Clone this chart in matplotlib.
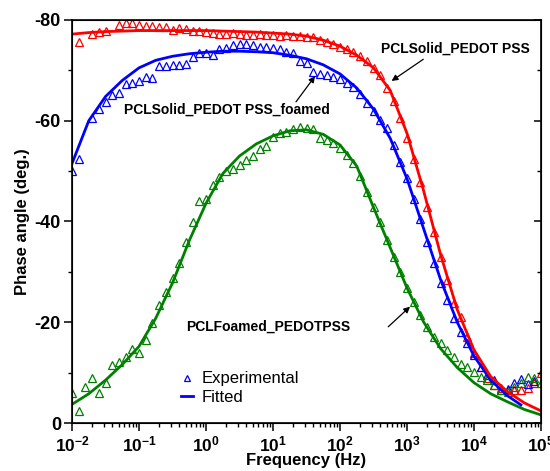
import numpy as np
import matplotlib
matplotlib.use('Agg')
import matplotlib.pyplot as plt
from matplotlib.lines import Line2D
from matplotlib.ticker import LogLocator, NullFormatter

plt.rcParams['font.family'] = ['Liberation Sans', 'DejaVu Sans']
plt.rcParams['mathtext.fontset'] = 'custom'
plt.rcParams['mathtext.rm'] = 'Liberation Sans'
plt.rcParams['mathtext.bf'] = 'Liberation Sans:bold'
plt.rcParams['mathtext.it'] = 'Liberation Sans:italic'
plt.rcParams['axes.unicode_minus'] = False

# ---------------- data (log10 of frequency in Hz, phase angle in deg.) ----------------
solid_logf = [-1.9, -1.7, -1.6, -1.5, -1.3, -1.2, -1.1, -1.0, -0.9, -0.8, -0.7, -0.6, -0.5, -0.4,
              -0.3, -0.2, -0.1, 0.0, 0.1, 0.2, 0.3, 0.4, 0.5, 0.6, 0.7, 0.8, 0.9, 1.0, 1.1, 1.2,
              1.3, 1.4, 1.5, 1.6, 1.7, 1.8, 1.9, 2.0, 2.1, 2.2, 2.3, 2.4, 2.5, 2.6, 2.7, 2.8, 2.9,
              3.0, 3.1, 3.2, 3.3, 3.4, 3.5, 3.6, 3.7, 3.8, 3.9, 4.0, 4.1, 4.2, 4.3, 4.4, 4.5, 4.6,
              4.7, 4.8, 4.9, 5.0]
solid_phase = [-75.7, -77.3, -77.6, -77.9, -79.0, -79.4, -79.5, -79.0, -78.8, -78.8, -78.7, -78.6,
               -78.1, -78.5, -78.3, -77.9, -77.9, -77.7, -77.5, -77.3, -77.2, -77.4, -77.3, -77.1,
               -77.0, -77.2, -77.0, -77.0, -76.9, -77.0, -76.8, -76.9, -76.7, -76.6, -76.0, -75.7,
               -75.2, -74.7, -74.3, -73.7, -72.8, -71.8, -70.5, -69.0, -66.5, -63.9, -60.6, -56.6,
               -52.5, -47.9, -42.9, -38.0, -33.0, -28.4, -23.8, -21.0, -17.1, -13.8, -11.2, -8.9,
               -7.5, -6.9, -6.5, -6.5, -6.5, -6.9, -8.0, -10.0]

foamsolid_logf = [-2.0, -1.9, -1.7, -1.6, -1.5, -1.4, -1.3, -1.2, -1.1, -1.0, -0.9, -0.8, -0.7,
                  -0.6, -0.5, -0.4, -0.3, -0.2, -0.1, 0.0, 0.1, 0.2, 0.3, 0.4, 0.5, 0.6, 0.7, 0.8,
                  0.9, 1.0, 1.1, 1.2, 1.3, 1.4, 1.5, 1.6, 1.7, 1.8, 1.9, 2.0, 2.1, 2.2, 2.3, 2.4,
                  2.5, 2.6, 2.7, 2.8, 2.9, 3.0, 3.1, 3.2, 3.3, 3.4, 3.5, 3.6, 3.7, 3.8, 3.9, 4.0,
                  4.1, 4.2, 4.3, 4.4, 4.5, 4.6, 4.7, 4.8, 4.9]
foamsolid_phase = [-50.0, -52.4, -60.5, -62.3, -63.8, -65.1, -65.6, -67.2, -67.5, -67.9, -68.7,
                   -68.5, -70.9, -70.9, -71.0, -71.0, -71.2, -72.7, -73.5, -73.5, -73.1, -74.3,
                   -74.5, -75.0, -75.3, -75.3, -75.0, -74.7, -74.7, -74.5, -74.2, -73.7, -73.5,
                   -71.8, -71.4, -69.6, -69.3, -69.0, -68.6, -68.2, -67.4, -66.7, -65.4, -63.5,
                   -61.9, -60.1, -58.5, -55.2, -51.8, -48.6, -44.5, -40.4, -36.0, -31.7, -27.7,
                   -24.4, -20.8, -18.1, -15.8, -13.5, -11.2, -9.5, -8.5, -6.5, -6.7, -7.9, -8.7,
                   -7.8, -8.3]

foamed_logf = [-2.0, -1.9, -1.8, -1.7, -1.6, -1.5, -1.4, -1.3, -1.2, -1.1, -1.0, -0.9, -0.8, -0.7,
               -0.6, -0.5, -0.4, -0.3, -0.2, -0.1, 0.0, 0.1, 0.2, 0.3, 0.4, 0.5, 0.6, 0.7, 0.8,
               0.9, 1.0, 1.1, 1.2, 1.3, 1.4, 1.5, 1.6, 1.7, 1.8, 1.9, 2.0, 2.1, 2.2, 2.3, 2.4, 2.5,
               2.6, 2.7, 2.8, 2.9, 3.0, 3.1, 3.2, 3.3, 3.4, 3.5, 3.6, 3.7, 3.8, 3.9, 4.0, 4.1, 4.2,
               4.3, 4.4, 4.5, 4.6, 4.7, 4.8, 4.9, 5.0]
foamed_phase = [-5.9, -2.4, -7.2, -9.0, -5.9, -8.0, -11.5, -12.2, -13.2, -14.6, -13.9, -16.5, -19.8,
                -23.4, -26.1, -28.8, -31.8, -36.0, -39.9, -44.0, -44.4, -47.2, -48.9, -50.1, -50.5,
                -51.2, -52.2, -53.0, -54.3, -55.0, -56.8, -57.5, -57.8, -58.3, -58.7, -58.6, -58.3,
                -56.6, -56.2, -55.6, -54.6, -53.3, -51.6, -49.0, -45.9, -42.9, -39.9, -36.4, -33.0,
                -30.0, -26.7, -24.1, -21.4, -19.1, -17.1, -15.8, -14.5, -13.2, -11.8, -11.2, -10.2,
                -9.2, -8.5, -7.5, -6.5, -6.2, -7.2, -7.9, -9.2, -8.9, -7.9]

# fitted curves
fit_logf = [-2.0, -1.75, -1.5, -1.25, -1.0, -0.75, -0.5, -0.25, 0.0, 0.25, 0.5, 0.75, 1.0, 1.25,
            1.5, 1.75, 2.0, 2.25, 2.5, 2.75, 3.0, 3.25, 3.5, 3.75, 4.0, 4.25, 4.5, 4.75, 5.0]
solid_fit = [-77.2, -77.5, -77.7, -77.8, -77.9, -77.9, -77.9, -77.9, -77.9, -77.8, -77.7, -77.6,
             -77.4, -77.2, -76.8, -76.0, -74.8, -73.0, -70.5, -66.0, -57.5, -46.0, -33.5, -22.5,
             -14.5, -9.2, -6.2, -4.0, -2.4]
foamsolid_fit_logf = [-2.0, -1.75, -1.5, -1.25, -1.0, -0.75, -0.5, -0.25, 0.0, 0.25, 0.5, 0.75,
                      1.0, 1.25, 1.5, 1.75, 2.0, 2.25, 2.5, 2.75, 3.0, 3.25, 3.5, 3.75, 4.0, 4.25,
                      4.5, 4.7]
foamsolid_fit = [-51.5, -60.0, -64.8, -68.0, -70.5, -72.0, -72.8, -73.3, -73.6, -73.8, -73.8,
                 -73.7, -73.5, -73.0, -72.3, -71.1, -69.3, -66.5, -62.3, -56.5, -48.5, -38.5,
                 -28.5, -20.0, -13.3, -8.5, -5.4, -3.6]
foamed_fit = [-3.7, -5.8, -8.5, -11.6, -15.2, -20.8, -27.8, -36.2, -43.6, -49.5, -53.0, -55.4,
              -57.0, -58.0, -58.2, -57.3, -55.2, -51.0, -42.8, -34.8, -26.8, -20.0, -14.8, -11.0,
              -8.0, -5.8, -4.2, -2.7, -1.6]

x_tick_exp = [-2, -1, 0, 1, 2, 3, 4, 5]
y_ticks = [0, -20, -40, -60, -80]
y_minor = [-10, -30, -50, -70]

RED = '#ff0000'
BLUE = '#0000ff'
GREEN = '#008000'

fig = plt.figure(figsize=(5.5, 4.71), dpi=100)
ax = fig.add_axes([72 / 550, 1 - 423 / 471, (541 - 72) / 550, (423 - 20) / 471])

mk = dict(linestyle='none', marker='^', mfc='none', ms=5.6, mew=0.9)
ax.plot(10 ** np.array(solid_logf), solid_phase, mec=RED, **mk)
ax.plot(10 ** np.array(foamsolid_logf), foamsolid_phase, mec=BLUE, **mk)
ax.plot(10 ** np.array(foamed_logf), foamed_phase, mec=GREEN, **mk)

ax.plot(10 ** np.array(fit_logf), foamed_fit, color=GREEN, lw=2)
ax.plot(10 ** np.array(foamsolid_fit_logf), foamsolid_fit, color=BLUE, lw=2)
ax.plot(10 ** np.array(fit_logf), solid_fit, color=RED, lw=2)

ax.set_xscale('log')
ax.set_xlim(1e-2, 1e5)
ax.set_ylim(0, -80)

ax.set_xticks([10.0 ** k for k in x_tick_exp])
ax.set_xticklabels([r'$\mathbf{10^{%d}}$' % k for k in x_tick_exp], fontsize=12.5)
ax.xaxis.set_minor_locator(LogLocator(base=10, subs=np.arange(2, 10), numticks=20))
ax.xaxis.set_minor_formatter(NullFormatter())

ax.set_yticks(y_ticks)
ax.set_yticklabels([str(v) for v in y_ticks], fontsize=13, fontweight='bold')
ax.set_yticks(y_minor, minor=True)

ax.tick_params(axis='both', which='major', direction='out', length=6, width=1.1, pad=2)
ax.tick_params(axis='both', which='minor', direction='out', length=3, width=1.0)
for s in ax.spines.values():
    s.set_linewidth(1.2)

ax2 = ax.twinx()
ax2.set_ylim(0, -80)
ax2.set_yticks(y_ticks)
ax2.set_yticks(y_minor, minor=True)
ax2.tick_params(axis='y', which='major', direction='in', length=5, width=1.1, labelright=False)
ax2.tick_params(axis='y', which='minor', direction='in', length=3, width=1.0)

ax.set_xlabel('Frequency (Hz)', fontsize=12, fontweight='bold', labelpad=-1)
ax.set_ylabel('Phase angle (deg.)', fontsize=12, fontweight='bold', labelpad=3)

arrow = dict(arrowstyle='-|>', color='black', lw=0.9, mutation_scale=9, shrinkA=0, shrinkB=0)
ax.text(10 ** 3.72, -74.3, 'PCLSolid_PEDOT PSS', fontsize=10, fontweight='bold',
        ha='center', va='center')
ax.annotate('', xy=(10 ** 2.77, -67.9), xytext=(10 ** 3.243, -72.2), arrowprops=arrow)
ax.text(10 ** 0.306, -62.1, 'PCLSolid_PEDOT PSS_foamed', fontsize=10, fontweight='bold',
        ha='center', va='center')
ax.annotate('', xy=(10 ** 1.627, -68.85), xytext=(10 ** 1.343, -63.75), arrowprops=arrow)
ax.text(10 ** 0.925, -19.1, 'PCLFoamed_PEDOTPSS', fontsize=10, fontweight='bold',
        ha='center', va='center')
ax.annotate('', xy=(10 ** 3.045, -23.1), xytext=(10 ** 2.72, -19.1), arrowprops=arrow)

handles = [Line2D([], [], linestyle='none', marker='^', mfc='none', mec=BLUE, ms=5, mew=0.9),
           Line2D([], [], color=BLUE, lw=2)]
ax.legend(handles, ['Experimental', 'Fitted'], loc='upper left', bbox_to_anchor=(0.232, 0.128),
          frameon=False, fontsize=12, handlelength=0.76, handletextpad=0.5, labelspacing=0.2,
          borderpad=0, borderaxespad=0)

fig.savefig('out.png', dpi=100)
